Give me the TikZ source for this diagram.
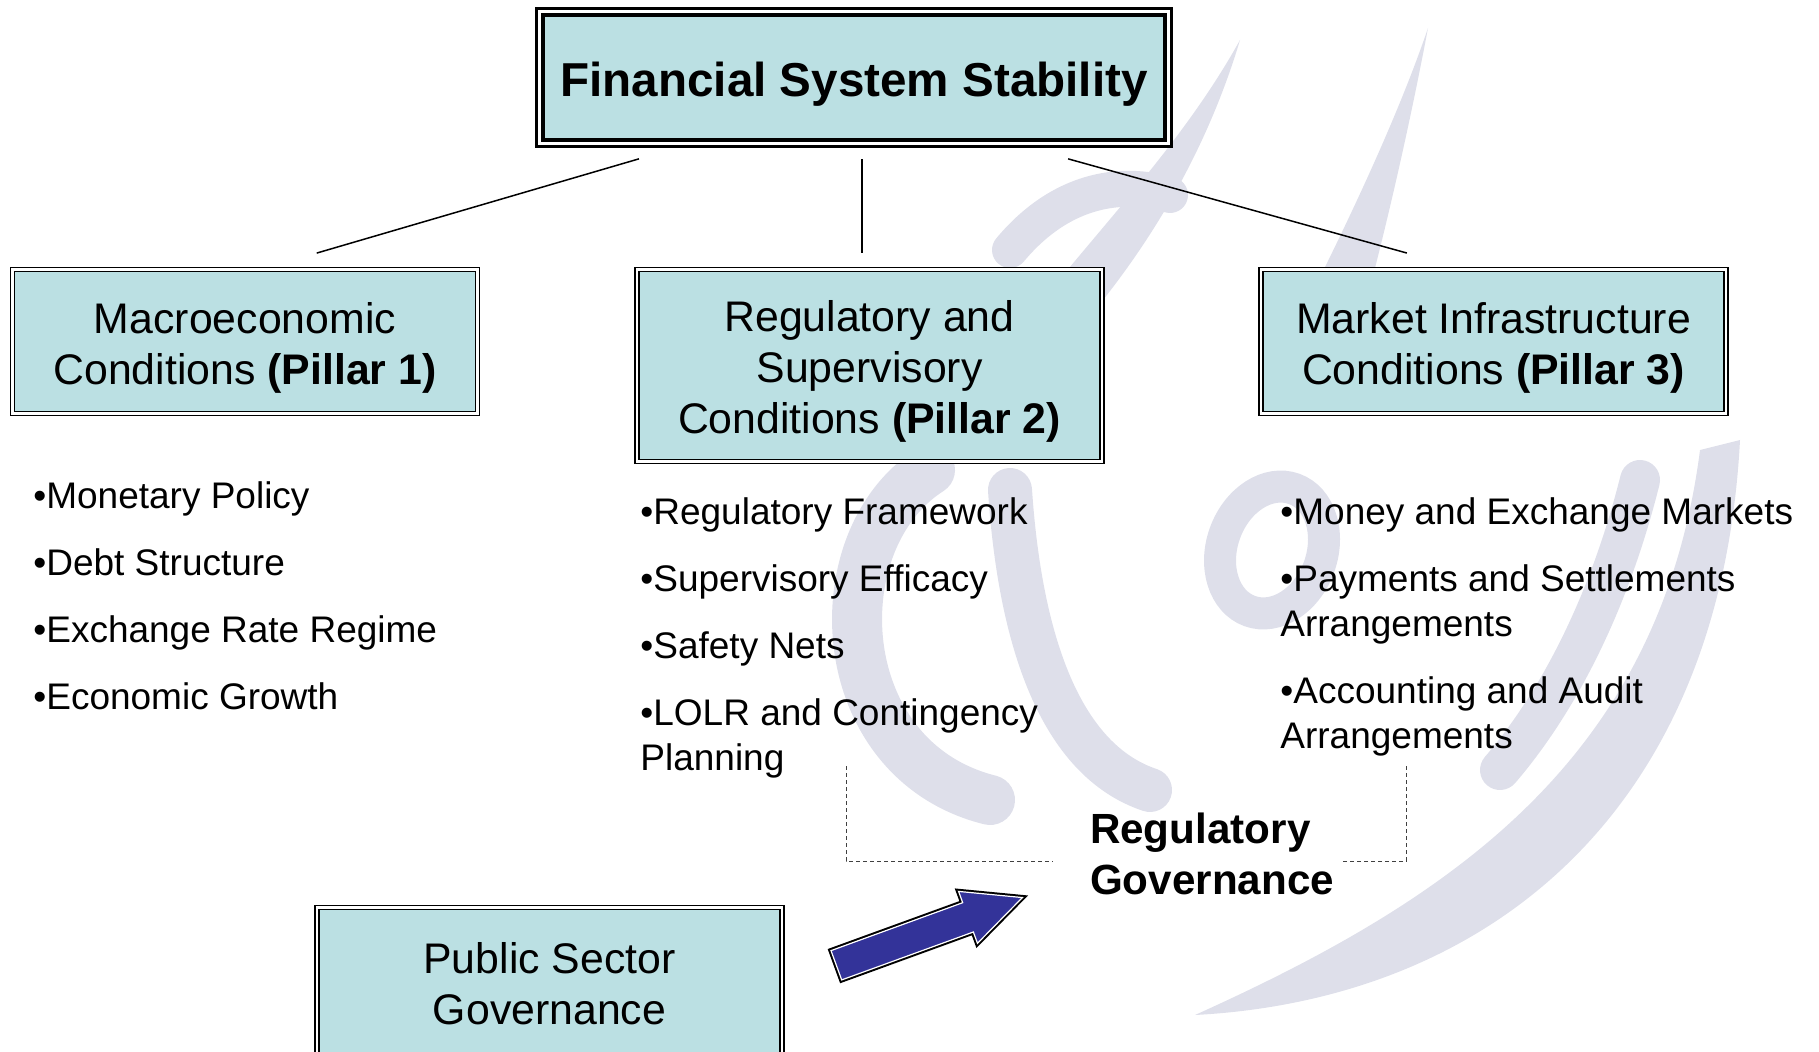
\documentclass[tikz,border=0pt]{standalone}
\usepackage{fontspec}
\setmainfont{Liberation Sans}
\usetikzlibrary{shapes.arrows,positioning,calc}
\definecolor{boxfill}{RGB}{187,224,227}
\definecolor{arrowblue}{RGB}{51,51,153}
\definecolor{wmgray}{RGB}{222,223,234}
\newcommand{\boxstrut}{\rule{0pt}{21.6pt}}

\tikzset{
  titlebox/.style={draw, line width=1.6pt, double=white, double distance=1.2pt, fill=boxfill,
    minimum width=314.6pt, minimum height=66pt, inner sep=0pt,
    execute at begin node={\rule{0pt}{24.4pt}},
    font=\bfseries\fontsize{23.8}{28}\selectfont},
  pillar/.style={draw, line width=0.7pt, double=white, double distance=1.2pt, fill=boxfill,
    minimum width=232.5pt, minimum height=72pt, inner sep=0pt, align=center,
    font=\fontsize{21.4}{25.6}\selectfont},
  link/.style={line width=0.75pt},
  listtext/.style={align=left, inner sep=0pt, anchor=north west, font=\fontsize{18.5}{22.5}\selectfont},
  govtext/.style={align=left, inner sep=4pt, font=\bfseries\fontsize{21.1}{25.5}\selectfont},
  govline/.style={draw=black!75, line width=0.5pt, dash pattern=on 2pt off 1.5pt},
  blockarrow/.style={single arrow, fill=arrowblue, draw=white, line width=0.6pt,
    preaction={draw=black, line width=2.6pt},
    minimum height=99pt, minimum width=27pt, single arrow head extend=6pt,
    single arrow tip angle=51, inner xsep=0pt, inner ysep=7.5pt, rotate=20},
  wm/.style={wmgray, line cap=round},
}

\begin{document}
\begin{tikzpicture}[x=0.5pt,y=-0.5pt]
\useasboundingbox (0,0) rectangle (1819,1052);
\clip (0,0) rectangle (1819,1052);

% watermark
\fill[wmgray] (1195,1015) .. controls (1480,1000) and (1720,820) .. (1740,440) -- (1700,450)
  .. controls (1660,760) and (1450,900) .. (1195,1015) -- cycle;
\fill[wmgray] (1428,28) .. controls (1405,150) and (1370,300) .. (1335,410) -- (1260,395)
  .. controls (1320,280) and (1390,140) .. (1428,28) -- cycle;
\fill[wmgray] (1240,40) .. controls (1210,140) and (1160,230) .. (1095,310) -- (1055,285)
  .. controls (1125,200) and (1190,130) .. (1240,40) -- cycle;
\draw[wm, line width=18pt] (1010,250) .. controls (1060,190) and (1120,180) .. (1170,195);
\draw[wm, line width=25pt] (930,470) .. controls (820,540) and (830,760) .. (990,800);
\draw[wm, line width=22pt] (1010,490) .. controls (1020,640) and (1060,760) .. (1150,790);
\draw[wm, line width=16pt, rotate around={-20:(1272,550)}] (1272,550) ellipse [x radius=50, y radius=65];
\draw[wm, line width=20pt] (1640,480) .. controls (1610,600) and (1560,700) .. (1500,770);

% boxes
\node[titlebox] (fss) at (854,77.5) {Financial System Stability};
\draw[line width=0.6pt] ([shift={(3.35pt,3.35pt)}]fss.south west) rectangle ([shift={(-3.35pt,-3.35pt)}]fss.north east);

\node[pillar] (p1) at (245,341.5) {\boxstrut Macroeconomic\\Conditions \textbf{(Pillar 1)}};
\node[pillar, minimum height=96pt] (p2) at (869.5,365.5) {\boxstrut Regulatory and\\Supervisory\\Conditions \textbf{(Pillar 2)}};
\node[pillar] (p3) at (1493.5,341.5) {\boxstrut Market Infrastructure\\Conditions \textbf{(Pillar 3)}};
\node[pillar, minimum height=76pt] (psg) at (549.5,983.5) {Public Sector\\Governance};

\draw[link, shorten <=24.5pt, shorten >=28pt] ([xshift=-84pt]fss.south) -- ([xshift=9pt]p1.north);
\draw[link, shorten <=7pt, shorten >=8pt] ([xshift=4pt]fss.south) -- ([xshift=-3.75pt]p2.north);
\draw[link, shorten <=25.7pt, shorten >=29.4pt] ([xshift=82.3pt]fss.south) -- ([xshift=-15pt]p3.north);

% lists
\node[listtext] (l1) at (33,481) {•Monetary Policy\\[11pt]•Debt Structure\\[11pt]•Exchange Rate Regime\\[11pt]•Economic Growth};
\node[listtext] (l2) at (640,497) {•Regulatory Framework\\[11pt]•Supervisory Efficacy\\[11pt]•Safety Nets\\[11pt]•LOLR and Contingency\\Planning};
\node[listtext] (l3) at (1280,497) {•Money and Exchange Markets\\[11pt]•Payments and Settlements\\Arrangements\\[11pt]•Accounting and Audit\\Arrangements};

% regulatory governance
\node[govtext] (rg) at (1212,854) {Regulatory\\Governance};
\coordinate (gl) at (846,766);
\coordinate (gr) at (1406,766);
\draw[govline] (gl) |- ([xshift=-14.5pt,yshift=-3.5pt]rg.west);
\draw[govline] (gr) |- ([yshift=-3.5pt]rg.east);

\node[blockarrow] (arr) at (914,937) {};
\end{tikzpicture}
\end{document}
